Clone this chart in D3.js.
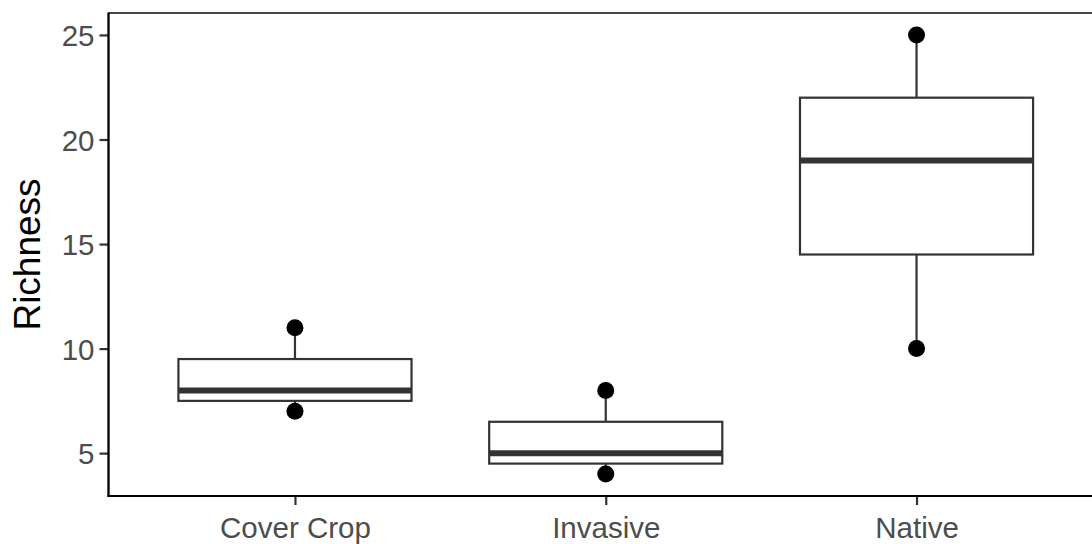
<!DOCTYPE html>
<html lang="en">
<head>
    <meta charset="UTF-8">
    <title>Richness boxplot</title>
    <script src="https://d3js.org/d3.v7.min.js"></script>
    <style>
        body { margin: 0; background: #fff; }
        svg { display: block; font-family: "Liberation Sans", Arial, sans-serif; }
    </style>
</head>
<body>
    <svg width="1092" height="544"></svg>

    <script>
        // Data
        const categories = ["Cover Crop", "Invasive", "Native"];
        const whiskerLow = [7, 4, 10];
        const q1 = [7.5, 4.5, 14.5];
        const median = [8, 5, 19];
        const q3 = [9.5, 6.5, 22];
        const whiskerHigh = [11, 8, 25];
        const yTicks = [5, 10, 15, 20, 25];

        const svg = d3.select("svg");

        const panelLeft = 108.5, panelTop = 13, panelBottom = 496;
        // discrete axis with 0.6 expansion each side; panel runs past the right edge
        const xScale = d3.scaleLinear().domain([0.4, 3.6]).range([panelLeft, 1103]);
        const yScale = d3.scaleLinear().domain([2.95, 26.05]).range([panelBottom, panelTop]);
        const boxWidth = 0.75;

        // panel border (top visible; right is off-canvas)
        svg.append("rect")
            .attr("x", panelLeft)
            .attr("y", panelTop)
            .attr("width", xScale(3.6) - panelLeft)
            .attr("height", panelBottom - panelTop)
            .attr("fill", "none")
            .attr("stroke", "#333333")
            .attr("stroke-width", 1.8);

        const boxes = categories.map((c, i) => ({
            i: i + 1, lo: whiskerLow[i], q1: q1[i], med: median[i], q3: q3[i], hi: whiskerHigh[i]
        }));

        const g = svg.append("g");

        // whiskers
        g.selectAll("line.whisker-up").data(boxes).join("line")
            .attr("class", "whisker-up")
            .attr("x1", d => xScale(d.i)).attr("x2", d => xScale(d.i))
            .attr("y1", d => yScale(d.q3)).attr("y2", d => yScale(d.hi))
            .attr("stroke", "#333333").attr("stroke-width", 2.2);
        g.selectAll("line.whisker-down").data(boxes).join("line")
            .attr("class", "whisker-down")
            .attr("x1", d => xScale(d.i)).attr("x2", d => xScale(d.i))
            .attr("y1", d => yScale(d.q1)).attr("y2", d => yScale(d.lo))
            .attr("stroke", "#333333").attr("stroke-width", 2.2);

        // boxes
        g.selectAll("rect.box").data(boxes).join("rect")
            .attr("class", "box")
            .attr("x", d => xScale(d.i - boxWidth / 2))
            .attr("width", d => xScale(d.i + boxWidth / 2) - xScale(d.i - boxWidth / 2))
            .attr("y", d => yScale(d.q3))
            .attr("height", d => yScale(d.q1) - yScale(d.q3))
            .attr("fill", "#fff")
            .attr("stroke", "#333333").attr("stroke-width", 2.2);

        // medians
        g.selectAll("line.median").data(boxes).join("line")
            .attr("class", "median")
            .attr("x1", d => xScale(d.i - boxWidth / 2))
            .attr("x2", d => xScale(d.i + boxWidth / 2))
            .attr("y1", d => yScale(d.med)).attr("y2", d => yScale(d.med))
            .attr("stroke", "#333333").attr("stroke-width", 6);

        // points at the whisker ends
        const pts = boxes.flatMap(d => [{ i: d.i, v: d.lo }, { i: d.i, v: d.hi }]);
        g.selectAll("circle").data(pts).join("circle")
            .attr("cx", d => xScale(d.i))
            .attr("cy", d => yScale(d.v))
            .attr("r", 8.5)
            .attr("fill", "#000");

        // axes
        const yAxis = d3.axisLeft(yScale).tickValues(yTicks).tickSize(9).tickPadding(5);
        const xAxis = d3.axisBottom(xScale).tickValues([1, 2, 3])
            .tickFormat(d => categories[d - 1]).tickSize(9).tickPadding(12);

        const ya = svg.append("g").attr("transform", `translate(${panelLeft},0)`).call(yAxis);
        const xa = svg.append("g").attr("transform", `translate(0,${panelBottom})`).call(xAxis);

        [ya, xa].forEach(a => {
            a.select(".domain").remove();
            a.selectAll(".tick line").attr("stroke", "#333333").attr("stroke-width", 2.2);
            a.selectAll(".tick text")
                .attr("fill", "#4D4D4D")
                .style("font-size", "29.5px")
                .style("font-family", "'Liberation Sans', Arial, sans-serif");
        });
        ya.selectAll(".tick text").attr("dy", "0.36em");
        xa.selectAll(".tick text").attr("dy", "0.71em");

        // axis lines
        svg.append("line")
            .attr("x1", panelLeft).attr("x2", panelLeft)
            .attr("y1", panelTop).attr("y2", panelBottom + 1)
            .attr("stroke", "#000").attr("stroke-width", 2);
        svg.append("line")
            .attr("x1", panelLeft - 1).attr("x2", 1092)
            .attr("y1", panelBottom).attr("y2", panelBottom)
            .attr("stroke", "#000").attr("stroke-width", 2);

        // y title
        svg.append("text")
            .attr("transform", `translate(40,${(panelTop + panelBottom) / 2}) rotate(-90)`)
            .attr("text-anchor", "middle")
            .style("font-size", "37px")
            .attr("fill", "#000")
            .text("Richness");
    </script>
</body>
</html>
